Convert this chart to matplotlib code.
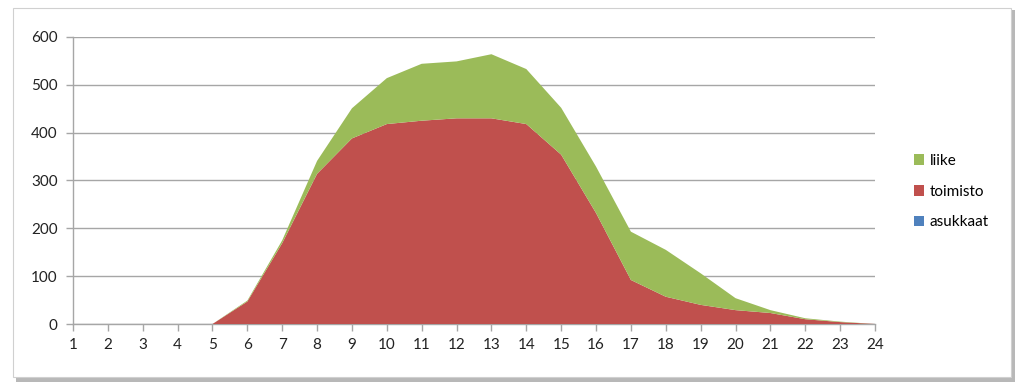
import matplotlib.pyplot as plt
from matplotlib.patches import Rectangle, Patch

plt.rcParams['font.family'] = ['Lato', 'DejaVu Sans']

# Tunnit
hours = list(range(1, 25))

# Sarjat (pinottu alue)
asukkaat = [0] * 24
toimisto = [0, 0, 0, 0, 0, 47, 169, 314, 388, 418, 425, 430, 430, 418,
            354, 232, 92, 57, 40, 29, 23, 10, 4, 0]
liike = [0, 0, 0, 0, 0, 2, 6, 27, 63, 96, 119, 119, 134, 115,
         98, 97, 101, 98, 66, 25, 6, 2, 1, 0]

series_names = ["asukkaat", "toimisto", "liike"]
colors = ["#4f81bd", "#c0504d", "#9bbb59"]

fig = plt.figure(figsize=(10.24, 3.91), dpi=100)

# kehys varjolla
fig.patches.append(Rectangle((16 / 1024, 9 / 391), 999 / 1024, 372 / 391,
                             transform=fig.transFigure, facecolor="#8a8a8a",
                             edgecolor="none", alpha=0.6, zorder=-2))
fig.patches.append(Rectangle((13 / 1024, 14 / 391), 998 / 1024, 369 / 391,
                             transform=fig.transFigure, facecolor="white",
                             edgecolor="#d0d0d0", linewidth=0.8, zorder=-1))

ax = fig.add_axes([73 / 1024, 67 / 391, 802 / 1024, 287 / 391])
ax.set_facecolor("none")

ax.stackplot(hours, asukkaat, toimisto, liike, colors=colors,
             labels=series_names, linewidth=0, zorder=3)

ax.set_xlim(1, 24)
ax.set_ylim(0, 600)
ax.set_xticks(hours)
ax.set_yticks(range(0, 601, 100))
ax.yaxis.grid(True, color="#a6a6a6", linewidth=1.0, zorder=0)
ax.set_axisbelow(True)

for side in ["top", "right"]:
    ax.spines[side].set_visible(False)
for side in ["left", "bottom"]:
    ax.spines[side].set_color("#a6a6a6")
    ax.spines[side].set_linewidth(1.0)

ax.tick_params(axis="both", colors="#a6a6a6", labelcolor="#222222",
               labelsize=11, length=5, width=1)
ax.tick_params(axis="y", pad=6)
ax.tick_params(axis="x", pad=5)

handles = [Patch(facecolor=c, label=n) for c, n in zip(colors, series_names)]
fig.legend(handles=handles[::-1], loc="center left",
           bbox_to_anchor=(900 / 1024, 0.51), frameon=False,
           fontsize=11, handlelength=0.7, handleheight=0.7,
           handletextpad=0.35, labelspacing=1.1)

fig.savefig("out.png", dpi=100)
